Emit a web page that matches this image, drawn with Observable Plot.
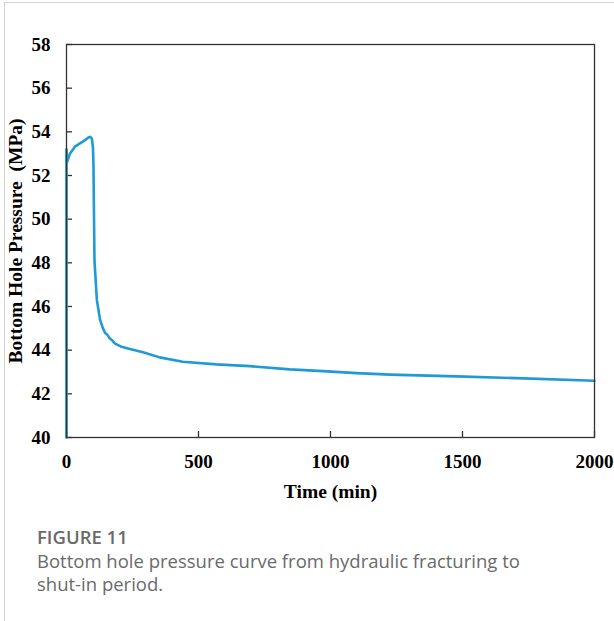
<!DOCTYPE html>
<html>
<head>
<meta charset="utf-8">
<script src="https://cdn.jsdelivr.net/npm/d3@7"></script>
<script src="https://cdn.jsdelivr.net/npm/@observablehq/plot@0.6"></script>
<style>
  html, body { margin: 0; padding: 0; background: #fff; }
  body { width: 614px; height: 621px; position: relative; overflow: hidden; }
  #edge { position: absolute; left: 4px; top: 2px; right: 0; bottom: 0;
          border-left: 1px solid #d4d4d4; border-top: 1px solid #d4d4d4; }
  #chart { position: absolute; left: 0; top: 0; }
  #caption { position: absolute; left: 37px; top: 524px; width: 570px;
             font-family: "Open Sans", "Noto Sans", sans-serif; color: #6a6a6a; }
  #caption .num { font-size: 18.5px; font-weight: 600; line-height: 25px; }
  #caption .txt { font-size: 18.5px; font-weight: 400; line-height: 23px; }
</style>
</head>
<body>
<div id="edge"></div>
<div id="chart"></div>
<div id="caption">
  <div class="num">FIGURE 11</div>
  <div class="txt">Bottom hole pressure curve from hydraulic fracturing to<br>shut-in period.</div>
</div>
<script>
// Bottom hole pressure record: time in minutes, pressure in MPa
const timeMin = [0, 0, 2, 13, 32, 51, 70, 83, 89, 96, 100, 102, 106, 115, 127, 138, 146, 155, 163, 173, 184, 205,
  240, 290, 353, 440, 568, 694, 846, 972, 1099, 1225, 1478, 1731, 2000];
const pressureMPa = [40, 53.2, 52.6, 53.0, 53.32, 53.47, 53.62, 53.74, 53.77, 53.7, 53.3, 52.6, 48.1, 46.3, 45.4, 45.0, 44.8, 44.7, 44.55, 44.45, 44.3, 44.17,
  44.05, 43.9, 43.67, 43.47, 43.35, 43.27, 43.12, 43.04, 42.95, 42.88, 42.8, 42.71, 42.6];

const xTicks = [0, 500, 1000, 1500, 2000];
const yTicks = [40, 42, 44, 46, 48, 50, 52, 54, 56, 58];

const records = timeMin.map((t, i) => ({t, p: pressureMPa[i]}));

const W = 614, H = 510;
const M = {left: 66, right: 20, top: 44, bottom: 73};
const innerW = W - M.left - M.right;
const innerH = H - M.top - M.bottom;
const tickLen = 6;

const chart = Plot.plot({
  width: W,
  height: H,
  marginLeft: M.left,
  marginRight: M.right,
  marginTop: M.top,
  marginBottom: M.bottom,
  style: {
    fontFamily: "'Liberation Serif', 'Times New Roman', serif",
    fontWeight: "bold",
    fontSize: "19px",
    color: "#000",
    background: "transparent",
    overflow: "visible"
  },
  x: {domain: [0, 2000]},
  y: {domain: [40, 58]},
  marks: [
    // inward tick marks along the left and bottom edges of the frame
    Plot.tickY(yTicks, {y: d => d, stroke: "#333", strokeWidth: 1.3, insetRight: innerW - tickLen}),
    Plot.tickX(xTicks, {x: d => d, stroke: "#333", strokeWidth: 1.3, insetTop: innerH - tickLen}),
    Plot.lineY(records, {x: "t", y: "p", stroke: "#1f9ad7", strokeWidth: 2.6, strokeLinejoin: "round"}),
    Plot.frame({stroke: "#333", strokeWidth: 1.3}),
    Plot.axisX({ticks: xTicks, tickSize: 0, tickPadding: 17, tickFormat: d => String(d), fontSize: 19,
      label: "Time (min)", labelAnchor: "center", labelArrow: "none", labelOffset: 60}),
    Plot.axisY({ticks: yTicks, tickSize: 0, tickPadding: 16, tickFormat: d => String(d), fontSize: 19,
      label: "Bottom Hole Pressure\u00a0 (MPa)", labelAnchor: "center", labelArrow: "none", labelOffset: 58})
  ]
});
document.getElementById("chart").appendChild(chart);
// Axis titles are set slightly larger than the tick labels
chart.querySelectorAll('g[aria-label="x-axis label"] text, g[aria-label="y-axis label"] text')
  .forEach(t => t.setAttribute("font-size", "19.5"));
</script>
</body>
</html>
